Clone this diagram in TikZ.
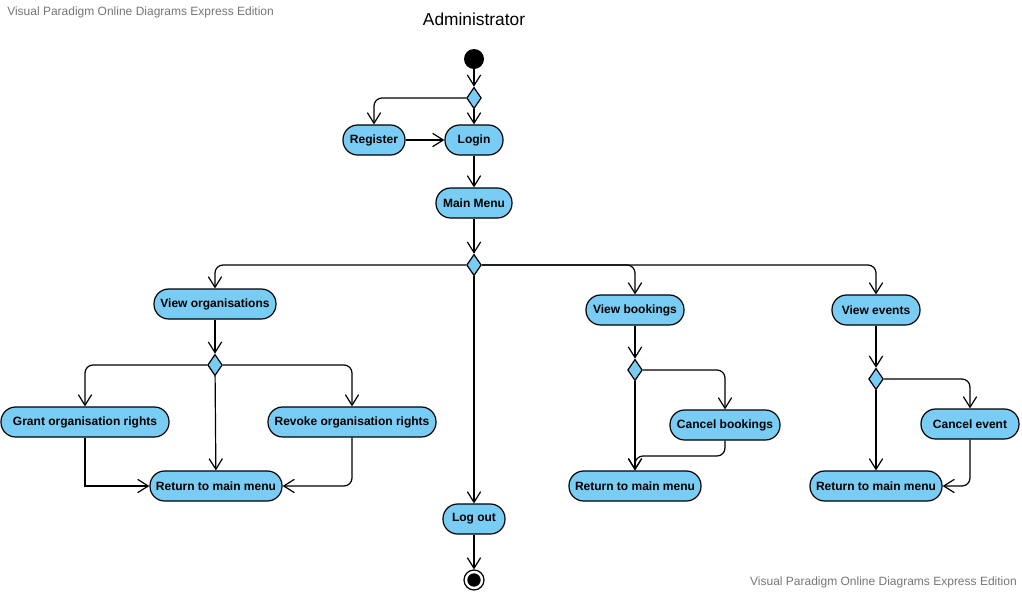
\documentclass[tikz,border=0pt]{standalone}
\usepackage{fontspec}
\setmainfont{Liberation Sans}
\usepackage{tikz}
\definecolor{ActFill}{HTML}{79CCF3}
\definecolor{Mark}{HTML}{767676}
\usetikzlibrary{positioning,arrows.meta,shapes.geometric}

\begin{document}
\begin{tikzpicture}[
  x=0.75pt, y=-0.75pt, font=\fontsize{9}{11}\selectfont\bfseries,
  >={Straight Barb[length=8pt, width=10pt]},
  act/.style={draw=black, line width=0.9pt, fill=ActFill, rectangle,
              rounded corners=11pt, minimum height=22.5pt, inner sep=2pt},
  dec/.style={draw=black, line width=0.9pt, fill=ActFill, diamond,
              minimum width=11pt, minimum height=16pt, inner sep=0pt},
  ar/.style={->, line width=0.9pt, black, rounded corners=6pt},
  wm/.style={font=\fontsize{9}{11}\selectfont, text=Mark, inner sep=0pt}]

\useasboundingbox (0,0) rectangle (1022,593);

% ================= header and watermarks =================
\node[wm, anchor=west] (wmtop) at (7,12) {Visual Paradigm Online Diagrams Express Edition};
\node[wm, anchor=east] (wmbot) at (1017,582) {Visual Paradigm Online Diagrams Express Edition};
\node[font=\fontsize{13}{15}\selectfont] (title) at (474,19) {Administrator};

% ================= entry: login =================
\node[circle, fill=black, minimum size=15pt, inner sep=0pt] (start) at (474,59) {};
\node[dec] (d1) at (474,98) {};
\node[act, minimum width=46.5pt] (reg) at (374,140) {Register};
\node[act, minimum width=43.5pt] (login) at (474,140) {Login};
\node[act, minimum width=57pt] (menu) at (474,203) {Main Menu};
\node[dec] (d2) at (474,265) {};

\draw[ar] (start) -- (d1);
\draw[ar] (d1.west) -| (reg.north);
\draw[ar] (d1) -- (login);
\draw[ar] (reg) -- (login);
\draw[ar] (login) -- (menu);
\draw[ar] (menu) -- (d2);

% ================= organisations =================
\node[act, minimum width=91.5pt] (vorg) at (215,304) {View organisations};
\node[dec] (d3) at (215,365) {};
\node[act, minimum width=126pt] (grant) at (85,422) {Grant organisation rights};
\node[act, minimum width=126pt] (revoke) at (352,422) {Revoke organisation rights};
\node[act, minimum width=99pt] (ret1) at (216,486) {Return to main menu};

\draw[ar] (d2.west) -| (vorg.north);
\draw[ar] (vorg) -- (d3);
\draw[ar] (d3.west) -| (grant.north);
\draw[ar] (d3.east) -| (revoke.north);
\draw[ar] (d3) -- (ret1);
\draw[ar, rounded corners=0pt] (grant.south) |- (ret1.west);
\draw[ar] (revoke.south) |- (ret1.east);

% ================= bookings =================
\node[act, minimum width=73.5pt] (vbook) at (635,310) {View bookings};
\node[dec] (d4) at (635,370) {};
\node[act, minimum width=82.5pt] (cbook) at (725,425) {Cancel bookings};
\node[act, minimum width=99pt] (ret2) at (635,486) {Return to main menu};
\coordinate (j2) at (635,456);

\draw[ar] (d2.east) -| (vbook.north);
\draw[ar] (vbook) -- (d4);
\draw[ar] (d4.east) -| (cbook.north);
\draw[ar] (d4) -- (ret2);
\draw[ar] (cbook.south) |- (j2) -- (ret2.north);

% ================= events =================
\node[act, minimum width=66pt] (vev) at (876,310) {View events};
\node[dec] (d5) at (876,379) {};
\node[act, minimum width=73.5pt] (cev) at (970,424) {Cancel event};
\node[act, minimum width=99pt] (ret3) at (876,486) {Return to main menu};

\draw[ar] (d2.east) -| (vev.north);
\draw[ar] (vev) -- (d5);
\draw[ar] (d5.east) -| (cev.north);
\draw[ar] (d5) -- (ret3);
\draw[ar] (cev.south) |- (ret3.east);

% ================= exit =================
\node[act, minimum width=46.5pt] (logout) at (474,519) {Log out};
\node[circle, draw=black, line width=0.9pt, minimum size=15pt, inner sep=0pt] (stop) at (474,580) {};
\node[circle, fill=black, minimum size=10pt, inner sep=0pt] (stopdot) at (stop) {};

\draw[ar] (d2) -- (logout);
\draw[ar] (logout) -- (stop);
\end{tikzpicture}
\end{document}
